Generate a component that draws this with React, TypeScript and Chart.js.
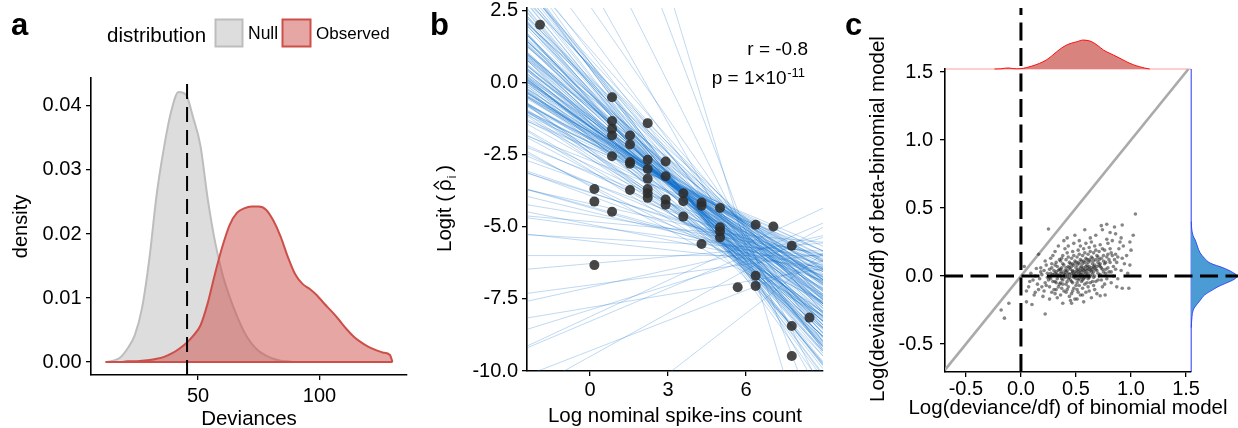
import React, { useEffect, useRef } from "react";
import { Chart, registerables } from "chart.js";

Chart.register(...registerables);

const FAMILY = "'Liberation Sans', Arial, Helvetica, sans-serif";

/* ---------------- panel a: deviance densities ---------------- */
const devianceGrid = [12, 15, 18, 21, 24, 27, 30, 33, 36, 39, 42, 45, 48, 51, 54, 57, 60, 63, 66, 69, 72, 75, 78, 81, 84, 87, 90, 93, 96, 99, 102, 105, 108, 111, 114, 117, 120, 123, 126, 129, 130];
const nullDensity = [0, 0.0002, 0.0007, 0.0021, 0.0042, 0.0085, 0.0162, 0.0262, 0.0335, 0.0392, 0.0422, 0.0418, 0.0382, 0.0338, 0.0255, 0.0188, 0.0138, 0.0102, 0.0072, 0.0047, 0.0029, 0.0017, 0.001, 0.0005, 0.0002, 0.0001, 0, 0, 0, 0, 0, 0, 0, 0, 0, 0, 0, 0, 0, 0, 0];
const observedDensity = [0, 0, 0, 0.0001, 0.0001, 0.0002, 0.0003, 0.0005, 0.0008, 0.0013, 0.002, 0.0029, 0.0041, 0.0057, 0.0092, 0.0138, 0.018, 0.0214, 0.0233, 0.024, 0.0243, 0.0243, 0.0238, 0.0221, 0.0196, 0.0164, 0.0137, 0.0122, 0.0114, 0.0104, 0.0091, 0.0079, 0.0066, 0.0052, 0.004, 0.0031, 0.0024, 0.0019, 0.0015, 0.0011, 0];
const observedCutoff = 45.5;
const devianceTicks = [50, 100];
const densityTicks = [0, 0.01, 0.02, 0.03, 0.04];
const legendTitle = "distribution";
const legendLabels = ["Null", "Observed"];

/* ---------------- panel b: spike-ins ---------------- */
const spikeLogCount = [-1.92, 0.85, 0.85, 0.85, 0.85, 0.85, 0.85, 1.54, 1.54, 1.54, 1.54, 1.54, 2.22, 2.22, 2.22, 2.22, 2.22, 2.22, 2.22, 2.91, 2.91, 2.91, 2.91, 3.59, 3.59, 3.59, 4.29, 4.29, 4.29, 5.0, 5.0, 5.0, 5.0, 0.17, 0.17, 0.17, 5.68, 6.37, 6.37, 6.37, 7.05, 7.76, 7.76, 7.76, 8.44];
const spikeLogitRho = [2.0, -0.51, -1.34, -1.61, -1.84, -2.56, -4.48, -1.84, -2.15, -2.76, -2.82, -3.73, -1.41, -2.68, -3.0, -3.34, -3.69, -3.84, -4.0, -2.74, -3.25, -4.06, -4.24, -3.84, -4.12, -4.65, -4.16, -4.27, -5.6, -4.35, -5.02, -5.16, -5.37, -3.69, -4.13, -6.33, -7.1, -4.93, -6.7, -7.05, -4.99, -5.66, -8.44, -9.48, -8.15];
// posterior regression lines: value at log count = 6, and slope
const fitLineAt6 = [
  -5.6, -5.1, -6.1, -5.3, -5.9, -4.9, -6.3, -5.5, -5.2, -6.0, -5.4, -4.8, -6.2, -5.7, -5.0, -6.4, -5.35, -5.85, -5.15, -6.05,
  -5.55, -4.95, -6.35, -5.45, -5.95, -5.05, -5.75, -4.75, -6.25, -5.65, -5.25, -6.15, -4.85, -6.45, -5.5, -5.0, -6.5, -5.6, -5.2, -6.0,
  -5.8, -5.1, -6.2, -4.9, -6.3, -5.4, -5.9, -4.7, -6.1, -5.3, -5.7, -5.05, -6.05, -5.25, -6.4, -5.45, -5.85, -5.0, -6.15, -5.35,
  -5.65, -5.15, -5.95, -4.95, -6.35, -5.55, -5.75, -6.25, -4.85, -6.55,
  -5.6, -5.8, -5.4, -5.9, -5.5, -6.1, -5.7, -6.0, -5.8, -6.3, -5.9, -6.2, -6.0, -5.6, -6.5, -5.4, -5.2, -5.7, -6.2, -8.0, -7.2, -6.8, -4.9, -4.8, -6.6, -6.9,
  -5.0, -6.4, -5.4, -4.7, -6.6, -5.9, -5.2, -6.2, -4.8, -6.3, -5.7, -5.1, -6.5, -5.3, -4.6, -6.0, -6.45, -5.5, -4.95, -6.15,
  -6.7, -5.25, -4.75, -5.8, -6.3, -5.35, -5.95, -4.85, -6.35, -5.65, -5.15, -6.55, -4.65, -6.05, -5.6, -6.4, -4.9, -5.85, -6.8, -5.45,
  -4.8, -5.75, -6.2, -5.3, -6.0, -5.05, -6.6, -5.6, -4.7, -6.1, -5.2, -6.25, -5.5, -5.8, -4.55, -6.05, -6.5, -5.4, -4.9, -5.9,
  -6.35, -5.55, -4.85, -6.0, -5.2, -6.2, -5.7, -5.1, -6.55, -5.45, -4.95, -5.85, -6.3, -5.3, -6.05, -4.75, -5.65, -6.15, -5.1, -5.75,
  -5.5, -6.45, -5.0, -6.1, -4.8, -5.35, -6.6, -5.9, -4.9, -5.6,
  -5.5, -5.8, -5.2, -6.0, -5.4, -5.7, -5.9, -5.3,
];
const fitLineSlope = [
  -0.68, -0.72, -0.63, -0.8, -0.58, -0.75, -0.66, -0.85, -0.61, -0.77, -0.52, -0.9, -0.7, -0.95, -0.64, -0.56, -0.69, -0.82, -0.55, -0.88,
  -0.6, -0.83, -0.74, -1.0, -0.48, -0.78, -0.65, -0.71, -0.92, -0.5, -0.87, -0.62, -0.67, -0.79, -0.57, -0.93, -0.68, -1.05, -0.46, -0.73,
  -0.84, -0.59, -0.97, -0.7, -0.61, -0.76, -1.1, -0.8, -0.53, -0.64, -0.91, -0.98, -0.69, -0.58, -0.81, -0.43, -1.15, -0.86, -0.6, -0.74,
  -1.22, -1.3, -1.08, -1.02, -0.95, -0.4, -0.38, -0.45, -0.52, -0.78,
  -0.3, -0.25, -0.2, -0.33, -0.15, -0.1, -0.05, 0.0, 0.08, 0.12, 0.2, 0.28, 0.38, 0.42, 0.5, -1.8, -2.4, -3.0, -1.6, 0.7, 0.35, -0.9, -0.6, -0.35, -0.5, 0.15,
  -0.62, -0.88, -0.71, -0.5, -1.05, -0.77, -0.58, -0.93, -0.45, -0.84, -0.69, -0.55, -1.12, -0.74, -0.42, -0.81, -0.97, -0.66, -0.52, -0.9,
  -1.2, -0.6, -0.47, -0.79, -0.95, -0.64, -0.86, -0.49, -1.0, -0.73, -0.57, -1.08, -0.4, -0.83, -0.7, -1.15, -0.54, -0.8, -1.25, -0.67,
  -0.48, -0.76, -0.99, -0.63, -0.87, -0.51, -1.18, -0.72, -0.44, -0.92, -0.59, -1.03, -0.68, -0.78, -0.38, -0.89, -1.1, -0.65, -0.53, -0.85,
  -1.06, -0.71, -0.46, -0.91, -0.61, -1.01, -0.75, -0.56, -1.14, -0.66, -0.5, -0.82, -1.04, -0.63, -0.94, -0.43, -0.74, -0.98, -0.58, -0.8,
  -0.69, -1.09, -0.55, -0.96, -0.47, -0.64, -1.2, -0.87, -0.52, -0.7,
  -0.28, -0.22, -0.35, -0.18, -0.32, -0.12, -0.26, -0.08,
];
const spikeTicks = [0, 3, 6];
const logitTicks = [-10, -7.5, -5, -2.5, 0, 2.5];
const corrLabel = "r = -0.8";
const pLabel = "p = 1\u00d710";
const pExponent = "-11";

/* ---------------- panel c: log(deviance/df) ---------------- */
const logDevPairs: [number, number][] = [
  [-0.18, -0.25], [-0.15, -0.31], [-0.11, -0.2],
  [0.03, 0.07], [0.05, -0.11], [0.05, -0.19],
  [0.08, -0.04], [0.1, -0.21], [0.09, 0.02], [0.07, -0.08],
  [0.13, -0.12], [0.12, -0.14], [0.14, 0.055], [0.11, -0.03], [0.13, 0.0], [0.15, -0.06],
  [0.16, 0.16], [0.17, -0.02], [0.18, 0.03], [0.19, -0.08], [0.16, -0.1], [0.18, 0.06], [0.2, -0.15], [0.19, 0.01],
  [0.22, -0.28], [0.25, 0.345], [0.21, 0.04], [0.22, -0.05], [0.23, 0.08], [0.24, -0.01], [0.21, -0.11], [0.24, 0.02], [0.23, -0.07], [0.22, 0.11], [0.25, -0.03],
  [0.26, 0.05], [0.27, -0.02], [0.28, 0.09], [0.26, -0.08], [0.29, 0.01], [0.27, 0.13], [0.28, -0.12], [0.3, 0.04], [0.26, -0.17], [0.29, -0.04], [0.27, 0.02], [0.28, 0.06], [0.3, -0.1], [0.29, 0.15], [0.26, -0.01],
  [0.31, 0.02], [0.32, -0.05], [0.33, 0.07], [0.31, -0.13], [0.34, 0.0], [0.32, 0.1], [0.33, -0.02], [0.35, 0.05], [0.31, 0.18], [0.34, -0.08], [0.32, 0.03], [0.33, -0.16], [0.35, 0.12], [0.31, -0.04], [0.34, 0.04], [0.32, -0.1], [0.33, 0.01], [0.35, -0.06], [0.34, 0.22], [0.31, 0.08],
  [0.36, 0.0], [0.37, 0.06], [0.38, -0.03], [0.36, 0.11], [0.39, 0.02], [0.37, -0.09], [0.38, 0.15], [0.4, -0.01], [0.36, -0.14], [0.39, 0.08], [0.37, 0.03], [0.38, -0.06], [0.4, 0.2], [0.36, 0.05], [0.39, -0.11], [0.37, -0.02], [0.38, 0.09], [0.4, 0.01], [0.36, -0.05], [0.39, 0.26], [0.37, 0.13], [0.38, -0.2], [0.4, 0.04], [0.36, 0.02],
  [0.41, 0.03], [0.42, -0.04], [0.43, 0.07], [0.41, 0.12], [0.44, -0.01], [0.42, 0.0], [0.43, -0.08], [0.45, 0.05], [0.41, -0.12], [0.44, 0.1], [0.42, 0.17], [0.43, 0.02], [0.45, -0.03], [0.41, 0.06], [0.44, -0.15], [0.42, 0.04], [0.43, 0.22], [0.45, 0.09], [0.41, -0.06], [0.44, 0.01], [0.42, -0.1], [0.43, 0.14], [0.45, -0.18], [0.41, 0.0], [0.44, 0.06], [0.42, 0.28], [0.43, -0.02],
  [0.46, 0.02], [0.47, -0.05], [0.48, 0.08], [0.46, 0.13], [0.49, 0.0], [0.47, 0.04], [0.48, -0.09], [0.5, 0.06], [0.46, -0.13], [0.49, 0.11], [0.47, 0.18], [0.48, 0.01], [0.5, -0.02], [0.46, 0.07], [0.49, -0.17], [0.47, 0.03], [0.48, 0.24], [0.5, 0.1], [0.46, -0.04], [0.49, 0.03], [0.47, -0.11], [0.48, 0.15], [0.5, -0.07], [0.46, 0.0], [0.49, 0.3], [0.47, 0.09], [0.48, -0.01], [0.5, 0.02], [0.46, -0.2],
  [0.51, 0.04], [0.52, -0.03], [0.53, 0.09], [0.51, 0.14], [0.54, 0.01], [0.52, 0.05], [0.53, -0.07], [0.55, 0.07], [0.51, -0.1], [0.54, 0.12], [0.52, 0.19], [0.53, 0.02], [0.55, -0.01], [0.51, 0.08], [0.54, -0.14], [0.52, 0.03], [0.53, 0.26], [0.55, 0.11], [0.51, -0.05], [0.54, 0.04], [0.52, -0.12], [0.53, 0.16], [0.55, -0.04], [0.51, 0.0], [0.54, 0.22], [0.52, 0.1], [0.53, -0.02], [0.55, 0.03], [0.51, -0.17], [0.54, 0.06],
  [0.56, 0.05], [0.57, -0.02], [0.58, 0.1], [0.56, 0.15], [0.59, 0.02], [0.57, 0.06], [0.58, -0.06], [0.6, 0.08], [0.56, -0.09], [0.59, 0.13], [0.57, 0.2], [0.58, 0.03], [0.6, 0.0], [0.56, 0.09], [0.59, -0.12], [0.57, 0.04], [0.58, 0.34], [0.6, 0.12], [0.56, -0.03], [0.59, 0.05], [0.57, -0.19], [0.58, 0.17], [0.6, -0.05], [0.56, 0.01], [0.59, 0.24], [0.57, 0.11], [0.58, -0.01], [0.6, 0.04], [0.56, -0.14], [0.59, 0.07],
  [0.61, 0.06], [0.62, -0.01], [0.63, 0.11], [0.61, 0.16], [0.64, 0.03], [0.62, 0.07], [0.63, -0.05], [0.65, 0.09], [0.61, -0.08], [0.64, 0.14], [0.62, 0.21], [0.63, 0.04], [0.65, 0.01], [0.61, 0.1], [0.64, -0.16], [0.62, 0.05], [0.63, 0.28], [0.65, 0.13], [0.61, -0.02], [0.64, 0.06], [0.62, -0.11], [0.63, 0.18], [0.65, -0.04], [0.61, 0.02], [0.64, 0.25], [0.62, 0.12], [0.63, 0.0], [0.65, 0.05],
  [0.66, 0.07], [0.67, 0.0], [0.68, 0.12], [0.66, 0.17], [0.69, 0.04], [0.67, 0.08], [0.68, -0.04], [0.7, 0.1], [0.66, -0.07], [0.69, 0.15], [0.67, 0.22], [0.68, 0.05], [0.7, 0.02], [0.66, 0.11], [0.69, -0.13], [0.67, 0.06], [0.68, 0.3], [0.7, 0.14], [0.66, -0.01], [0.69, 0.07], [0.67, -0.1], [0.68, 0.19], [0.7, -0.03], [0.66, 0.03],
  [0.71, 0.08], [0.72, 0.01], [0.73, 0.13], [0.71, 0.18], [0.74, 0.05], [0.72, 0.09], [0.73, -0.03], [0.75, 0.11], [0.72, -0.145], [0.74, 0.34], [0.72, 0.23], [0.73, 0.06], [0.75, 0.03], [0.71, 0.12], [0.74, -0.08], [0.72, 0.07], [0.73, 0.37], [0.75, 0.15], [0.71, 0.0], [0.74, 0.2],
  [0.76, 0.09], [0.77, 0.02], [0.78, 0.14], [0.765, -0.14], [0.79, 0.06], [0.77, 0.1], [0.78, -0.02], [0.8, 0.12], [0.76, 0.19], [0.79, 0.24], [0.77, 0.05], [0.78, 0.27], [0.8, 0.03], [0.76, -0.06], [0.79, 0.16], [0.78, 0.38],
  [0.81, 0.1], [0.82, 0.03], [0.83, 0.15], [0.81, 0.2], [0.84, 0.07], [0.82, -0.05], [0.83, 0.26], [0.85, 0.12], [0.81, 0.32], [0.84, 0.0], [0.82, 0.17], [0.85, 0.36],
  [0.86, 0.31], [0.87, -0.08], [0.88, 0.14], [0.86, 0.05], [0.89, 0.2], [0.87, 0.1], [0.88, -0.02], [0.9, 0.25], [0.86, 0.16],
  [0.92, 0.375], [0.92, 0.13], [0.92, -0.09], [0.91, 0.04], [0.93, 0.22], [0.94, 0.09], [0.91, 0.28],
  [0.99, 0.25], [0.99, 0.08], [0.98, -0.09], [0.96, 0.15], [0.97, 0.02],
  [1.04, 0.456], [1.02, 0.3], [1.0, 0.19],
];
const binomialGrid = [-0.24, -0.18, -0.14, -0.11, -0.08, -0.04, 0.0, 0.05, 0.1, 0.17, 0.23, 0.28, 0.325, 0.37, 0.415, 0.46, 0.507, 0.567, 0.6, 0.644, 0.7, 0.75, 0.8, 0.84, 0.9, 0.96, 1.02, 1.08, 1.12, 1.17];
const binomialDensity = [0, 0.01, 0.05, 0.06, 0.03, 0.01, 0.02, 0.08, 0.17, 0.33, 0.52, 0.76, 1.0, 1.22, 1.39, 1.5, 1.58, 1.68, 1.66, 1.58, 1.35, 1.1, 0.93, 0.81, 0.62, 0.42, 0.25, 0.13, 0.06, 0];
const betaGrid = [-0.38, -0.3, -0.25, -0.22, -0.18, -0.14, -0.1, -0.075, -0.05, -0.025, 0.0, 0.03, 0.06, 0.095, 0.13, 0.17, 0.22, 0.265, 0.3, 0.36, 0.4];
const betaDensity = [0, 0.07, 0.18, 0.4, 0.8, 1.2, 1.97, 2.5, 3.2, 3.85, 4.12, 3.65, 2.87, 1.7, 1.2, 0.8, 0.55, 0.36, 0.15, 0.03, 0];
const logDevTicks = [-0.5, 0, 0.5, 1, 1.5];

/* ---------------- axis limits ---------------- */
const A_X = [5.97, 136];
const A_Y = [-0.00203, 0.04437];
const B_X = [-2.42, 8.96];
const B_Y = [-10, 2.58];
const C_X = [-0.69, 1.545];
const C_Y = [-0.706, 1.522];

/* ---------------- helpers ---------------- */
function fixedAxis(o: { min: number; max: number; ticks: number[]; digits: number; size: number; horizontal: boolean; pad: number }) {
  return {
    type: "linear",
    min: o.min,
    max: o.max,
    afterBuildTicks: (s: any) => {
      s.ticks = o.ticks.map((value) => ({ value }));
    },
    afterFit: (s: any) => {
      if (o.horizontal) s.height = o.size;
      else s.width = o.size;
      s.paddingTop = 0;
      s.paddingBottom = 0;
      s.paddingLeft = 0;
      s.paddingRight = 0;
    },
    ticks: {
      color: "#000",
      font: { family: FAMILY, size: 20 },
      padding: o.pad,
      autoSkip: false,
      maxRotation: 0,
      minRotation: 0,
      callback: (v: any) => Number(v).toFixed(o.digits),
    },
    grid: { display: true, drawOnChartArea: false, drawTicks: true, tickLength: 5, color: "#000", lineWidth: 1.3 },
    border: { display: true, color: "#000", width: 1.6 },
  };
}

function hiddenAxis(min: number, max: number) {
  return { type: "linear", min, max, display: false };
}

function baseOptions(padding: any, scales: any) {
  return {
    responsive: false,
    maintainAspectRatio: false,
    animation: false,
    devicePixelRatio: 1,
    events: [],
    layout: { padding },
    plugins: { legend: { display: false }, tooltip: { enabled: false }, title: { display: false } },
    elements: { line: { tension: 0 }, point: { radius: 0 } },
    scales,
  };
}

function drawText(ctx: CanvasRenderingContext2D, s: string, x: number, y: number, size: number, opts: { align?: CanvasTextAlign; bold?: boolean; rotate?: boolean } = {}) {
  ctx.save();
  ctx.fillStyle = "#000";
  ctx.font = `${opts.bold ? "bold " : ""}${size}px ${FAMILY}`;
  ctx.textAlign = opts.align || "left";
  ctx.textBaseline = "alphabetic";
  ctx.translate(x, y);
  if (opts.rotate) ctx.rotate(-Math.PI / 2);
  ctx.fillText(s, 0, 0);
  ctx.restore();
}

const NULL_FILL = "#dddddd";
const NULL_LINE = "#bdbdbd";
const OBS_FILL = "rgba(205,77,72,0.5)";
const OBS_LINE = "#cd4f4a";
const BAND_COLOR = "rgba(24,116,205,0.34)";

/* ---------------- panel a ---------------- */
function configA() {
  const nullPts = devianceGrid.map((x, i) => ({ x, y: nullDensity[i] }));
  const obsPts = devianceGrid.map((x, i) => ({ x, y: observedDensity[i] }));
  const base = [
    { x: devianceGrid[0], y: 0 },
    { x: devianceGrid[devianceGrid.length - 1], y: 0 },
  ];
  const plugin = {
    id: "panelA",
    afterDatasetsDraw(chart: any) {
      const { ctx, chartArea, scales } = chart;
      const x = scales.x.getPixelForValue(observedCutoff);
      ctx.save();
      ctx.strokeStyle = "#000";
      ctx.lineWidth = 2;
      ctx.setLineDash([15, 8]);
      ctx.beginPath();
      ctx.moveTo(x, chartArea.bottom);
      ctx.lineTo(x, chartArea.top);
      ctx.stroke();
      ctx.restore();
    },
    afterDraw(chart: any) {
      const ctx = chart.ctx as CanvasRenderingContext2D;
      drawText(ctx, "a", 11, 35, 31, { bold: true });
      drawText(ctx, "density", 27, 226.5, 20, { rotate: true, align: "center" });
      drawText(ctx, "Deviances", 249, 425, 20.5, { align: "center" });
      drawText(ctx, legendTitle, 107, 41.5, 20.5);
      ctx.save();
      ctx.lineWidth = 2;
      ctx.fillStyle = NULL_FILL;
      ctx.strokeStyle = NULL_LINE;
      ctx.fillRect(215.5, 19.5, 27, 27);
      ctx.strokeRect(215.5, 19.5, 27, 27);
      ctx.fillStyle = "#ffffff";
      ctx.fillRect(282.5, 19.5, 28, 27);
      ctx.fillStyle = OBS_FILL;
      ctx.strokeStyle = OBS_LINE;
      ctx.fillRect(282.5, 19.5, 28, 27);
      ctx.strokeRect(282.5, 19.5, 28, 27);
      ctx.restore();
      drawText(ctx, legendLabels[0], 248, 39, 17.5);
      drawText(ctx, legendLabels[1], 316, 39, 17);
    },
  };
  return {
    type: "line",
    data: {
      datasets: [
        { data: nullPts, fill: "origin", backgroundColor: NULL_FILL, borderColor: NULL_LINE, borderWidth: 2, pointRadius: 0, cubicInterpolationMode: "monotone", order: 3 },
        { data: obsPts, fill: "origin", backgroundColor: OBS_FILL, borderColor: OBS_LINE, borderWidth: 2, pointRadius: 0, cubicInterpolationMode: "monotone", order: 2 },
        { data: base, fill: false, borderColor: OBS_LINE, borderWidth: 2, pointRadius: 0, order: 1 },
      ],
    },
    options: baseOptions(
      { top: 78, right: 3, left: 0, bottom: 0 },
      {
        x: fixedAxis({ min: A_X[0], max: A_X[1], ticks: devianceTicks, digits: 0, size: 53, horizontal: true, pad: 4 }),
        y: fixedAxis({ min: A_Y[0], max: A_Y[1], ticks: densityTicks, digits: 2, size: 91, horizontal: false, pad: 4.5 }),
      }
    ),
    plugins: [plugin],
  };
}

/* ---------------- panel b ---------------- */
function configB() {
  const lines = fitLineAt6.map((m, i) => ({
    data: [
      { x: B_X[0], y: m + fitLineSlope[i] * (B_X[0] - 6) },
      { x: B_X[1], y: m + fitLineSlope[i] * (B_X[1] - 6) },
    ],
    showLine: true,
    borderColor: BAND_COLOR,
    borderWidth: 0.8,
    pointRadius: 0,
    order: 2,
  }));
  const pts = spikeLogCount.map((x, i) => ({ x, y: spikeLogitRho[i] }));
  const L = 410;
  const plugin = {
    id: "panelB",
    afterDraw(chart: any) {
      const ctx = chart.ctx as CanvasRenderingContext2D;
      drawText(ctx, "b", 430 - L, 35, 31, { bold: true });
      drawText(ctx, "Log nominal spike-ins count", 675 - L, 422, 20.5, { align: "center" });
      drawText(ctx, corrLabel, 808 - L, 55, 19, { align: "right" });
      ctx.save();
      ctx.font = `13px ${FAMILY}`;
      const wSup = ctx.measureText(pExponent).width;
      ctx.restore();
      const supX = 805 - L - wSup;
      drawText(ctx, pLabel, supX - 0.5, 83.5, 19, { align: "right" });
      drawText(ctx, pExponent, supX, 77, 13);
      // rotated y title: Logit (rho-hat_i)
      ctx.save();
      ctx.translate(451 - L, 252);
      ctx.rotate(-Math.PI / 2);
      ctx.fillStyle = "#000";
      ctx.textBaseline = "alphabetic";
      ctx.textAlign = "left";
      ctx.font = `20.5px ${FAMILY}`;
      const s1 = "Logit (";
      const w1 = ctx.measureText(s1).width;
      ctx.fillText(s1, 0, 0);
      const rx = w1 + 4;
      ctx.fillText("\u03c1", rx, 0);
      const wr = ctx.measureText("\u03c1").width;
      ctx.strokeStyle = "#000";
      ctx.lineWidth = 1.3;
      ctx.beginPath();
      ctx.moveTo(rx + wr / 2 - 4, -12);
      ctx.lineTo(rx + wr / 2, -17);
      ctx.lineTo(rx + wr / 2 + 4, -12);
      ctx.stroke();
      ctx.font = `12px ${FAMILY}`;
      ctx.fillText("i", rx + wr + 1, 5);
      const wi = ctx.measureText("i").width;
      ctx.font = `20.5px ${FAMILY}`;
      ctx.fillText(")", rx + wr + wi + 5, 0);
      ctx.restore();
    },
  };
  return {
    type: "scatter",
    data: {
      datasets: [
        ...lines,
        { data: pts, pointRadius: 5, pointBackgroundColor: "rgba(45,45,45,0.88)", pointBorderWidth: 0, showLine: false, order: 1 },
      ],
    },
    options: baseOptions(
      { top: 8, right: 7, left: 0, bottom: 0 },
      {
        x: fixedAxis({ min: B_X[0], max: B_X[1], ticks: spikeTicks, digits: 0, size: 57, horizontal: true, pad: 2 }),
        y: fixedAxis({ min: B_Y[0], max: B_Y[1], ticks: logitTicks, digits: 1, size: 117, horizontal: false, pad: 4 }),
      }
    ),
    plugins: [plugin],
  };
}

/* ---------------- panel c ---------------- */
function configC() {
  const L = 830;
  const pts = logDevPairs.map(([x, y]) => ({ x, y }));
  const diag = [
    { x: C_X[0], y: C_X[0] },
    { x: C_Y[1], y: C_Y[1] },
  ];
  const plugin = {
    id: "panelC",
    afterDatasetsDraw(chart: any) {
      const { ctx, chartArea, scales, width } = chart;
      const x0 = scales.x.getPixelForValue(0);
      const y0 = scales.y.getPixelForValue(0);
      ctx.save();
      ctx.strokeStyle = "#000";
      ctx.lineWidth = 3;
      ctx.setLineDash([18, 7.5]);
      ctx.beginPath();
      ctx.moveTo(x0, chartArea.bottom);
      ctx.lineTo(x0, 8);
      ctx.stroke();
      ctx.beginPath();
      ctx.moveTo(chartArea.left, y0);
      ctx.lineTo(width, y0);
      ctx.stroke();
      ctx.restore();
    },
    afterDraw(chart: any) {
      const ctx = chart.ctx as CanvasRenderingContext2D;
      drawText(ctx, "c", 845 - L, 35, 31, { bold: true });
      drawText(ctx, "Log(deviance/df) of beta-binomial model", 884 - L, 219, 20.5, { rotate: true, align: "center" });
      drawText(ctx, "Log(deviance/df) of binomial model", 1068 - L, 413.5, 20.5, { align: "center" });
    },
  };
  return {
    type: "scatter",
    data: {
      datasets: [
        { data: diag, showLine: true, borderColor: "#aaaaaa", borderWidth: 2.6, pointRadius: 0, order: 2 },
        { data: pts, pointRadius: 1.8, pointBackgroundColor: "rgba(35,35,35,0.55)", pointBorderWidth: 0, order: 1 },
      ],
    },
    options: baseOptions(
      { top: 69, right: 47, left: 0, bottom: 0 },
      {
        x: fixedAxis({ min: C_X[0], max: C_X[1], ticks: logDevTicks, digits: 1, size: 56, horizontal: true, pad: 0 }),
        y: fixedAxis({ min: C_Y[0], max: C_Y[1], ticks: logDevTicks, digits: 1, size: 115, horizontal: false, pad: 7 }),
      }
    ),
    plugins: [plugin],
  };
}

function configTop() {
  const pts = binomialGrid.map((x, i) => ({ x, y: binomialDensity[i] }));
  return {
    type: "line",
    data: {
      datasets: [
        { data: pts, fill: "origin", backgroundColor: "#d9837e", borderColor: "rgba(255,0,0,0.9)", borderWidth: 1, pointRadius: 0, cubicInterpolationMode: "monotone", order: 1 },
        {
          data: [
            { x: C_X[0], y: 0 },
            { x: C_X[1], y: 0 },
          ],
          fill: false,
          borderColor: "rgba(255,40,40,0.45)",
          borderWidth: 1.2,
          pointRadius: 0,
          order: 2,
        },
      ],
    },
    options: baseOptions({ top: 0, right: 0, left: 0, bottom: 0 }, { x: hiddenAxis(C_X[0], C_X[1]), y: hiddenAxis(-0.174, 4.0) }),
  };
}

function configRight() {
  const pts = betaGrid.map((y, i) => ({ x: betaDensity[i], y }));
  return {
    type: "line",
    data: {
      datasets: [
        { data: pts, fill: "origin", backgroundColor: "#4b9bd5", borderColor: "rgba(40,60,255,0.85)", borderWidth: 1, pointRadius: 0, cubicInterpolationMode: "monotone", order: 1 },
        {
          data: [
            { x: 0, y: C_Y[0] },
            { x: 0, y: C_Y[1] },
          ],
          fill: false,
          borderColor: "rgba(40,60,255,0.85)",
          borderWidth: 1.2,
          pointRadius: 0,
          order: 2,
        },
      ],
    },
    options: {
      ...baseOptions({ top: 0, right: 0, left: 0, bottom: 0 }, { x: hiddenAxis(-0.2, 4.2), y: hiddenAxis(C_Y[0], C_Y[1]) }),
      indexAxis: "y",
    },
  };
}

/* ---------------- components ---------------- */
function ChartCanvas(props: { left: number; top: number; width: number; height: number; make: () => any }) {
  const ref = useRef<HTMLCanvasElement>(null);
  useEffect(() => {
    const chart = new Chart(ref.current as HTMLCanvasElement, props.make());
    return () => chart.destroy();
  }, []);
  return (
    <canvas
      ref={ref}
      width={props.width}
      height={props.height}
      style={{ position: "absolute", left: props.left, top: props.top, width: props.width, height: props.height }}
    />
  );
}

export default function App() {
  return (
    <div style={{ position: "absolute", left: 0, top: 0, width: 1238, height: 428, background: "#fff", overflow: "hidden" }}>
      <ChartCanvas left={0} top={0} width={410} height={428} make={configA} />
      <ChartCanvas left={410} top={0} width={420} height={428} make={configB} />
      <ChartCanvas left={945} top={0} width={246} height={72} make={configTop} />
      <ChartCanvas left={1189} top={69} width={49} height={303} make={configRight} />
      <ChartCanvas left={830} top={0} width={408} height={428} make={configC} />
    </div>
  );
}
